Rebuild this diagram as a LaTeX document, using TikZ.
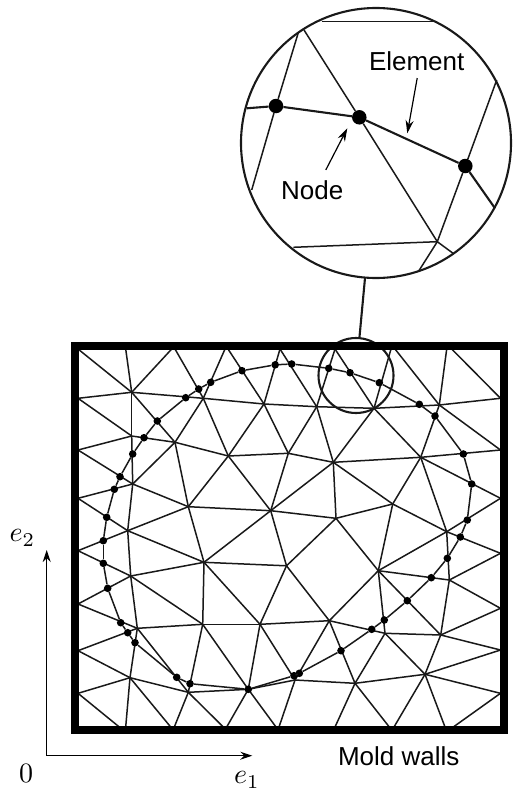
\documentclass[tikz,border=0pt]{standalone}
\usepackage{fontspec}
\setmainfont{Liberation Sans}
\usetikzlibrary{arrows.meta}
\tikzset{
  mesh/.style={line width=1.5pt,black!90},
  knot/.style={circle,fill=black,inner sep=0pt,minimum size=7.6pt},
  bigknot/.style={circle,fill=black,inner sep=0pt,minimum size=14.5pt},
  lens/.style={line width=2.1pt,black!90},
  axis/.style={line width=1.2pt,-{Stealth[length=12pt,width=8pt]}},
  pointer/.style={line width=1.2pt,-{Stealth[length=13pt,width=8pt]}},
  lab/.style={font=\fontsize{26}{30}\selectfont},
  mathlab/.style={scale=2.8}
}
\begin{document}
\begin{tikzpicture}[x=1pt,y=-1pt]
\useasboundingbox (0,0) rectangle (514,792);
% mesh points
\foreach \n/\p in {a1/{131.7,392.3},a2/{175,442.3},a3/{203.3,398.3},a4/{264,404},a5/{228.3,456},
  a6/{131.7,436},a7/{132.7,484},a8/{188.3,506.7},a9/{270.7,510.7},a10/{127.7,530.7},
  u1/{316.7,406.7},u2/{288.3,453.3},u3/{333.3,462.3},u4/{374,408.3},u5/{439.3,405},
  u6/{420.7,457.3},u7/{392.7,504},u8/{336,518.3},u10/{446.7,531.7},
  c1/{286.5,565.8},c2/{378.3,570.7},c3/{449.3,580},c4/{329.3,620.7},c5/{385,633.3},
  c6/{440.7,635},c7/{355,683.3},c8/{425,674.3},c9/{295,680},
  d2/{204,562.3},d4/{130.7,576},d5/{202.7,624.3},d6/{260,624.3},d7/{137.3,628.3},
  d8/{130,677.7},d9/{188.3,692.3},d10/{248.3,689.3}}
  \coordinate (\n) at (\p);
% points on the walls
\coordinate (tc) at (78,349);
\foreach \n/\x in {t1/125.7,t2/171.7,t3/175,t4/225,t5/228,t6/280,t7/335,t8/391,t9/395,t10/446.7,t11/451.7}
  \coordinate (\n) at (\x,349);
\foreach \n/\x in {b1/119.3,b2/125.7,b3/170.7,b4/174.3,b5/223.3,b6/226.7,b7/276,b8/279,b10/335,b11/389.3,b12/394,b13/445,b14/453.3}
  \coordinate (\n) at (\x,727);
\foreach \n/\y in {l1/398.3,l2/450,l3/498.3,l4/550.7,l5/604,l6/650.7,l7/693.3}
  \coordinate (\n) at (78,\y);
\foreach \n/\y in {r1/398.3,r2/450,r3/498.3,r4/553.3,r5/608.3,r6/650,r7/693.3}
  \coordinate (\n) at (500.5,\y);
% elements
\foreach \s/\e in {tc/a1,t1/a1,a1/a6,a6/a7,a7/a10,a10/d4,d4/d7,d7/d8,d8/b2,t2/a1,t3/a3,t4/a3,a3/a2,a3/a5,
  t5/a4,t6/a4,t6/u1,a1/a2,a1/l1,a1/a3,a3/a4,a4/u1,l1/a6,a6/l2,a6/a2,a2/a5,a2/a7,a2/a8,l2/a7,a7/a8,l3/a7,
  l3/a10,a5/a4,a5/a8,a5/a9,a5/u2,a4/u2,a8/a9,a8/a10,a10/l4,a10/d2,a8/d2,a9/d2,a9/c1,a9/u3,a9/u2,a9/u8,
  u8/c1,u1/u2,u1/u3,u1/u4,u1/t7,u2/u3,u3/u4,u3/u6,u3/u8,u3/u7,u7/u10,u7/u8,u7/u6,u7/c2,u8/c2,u4/t7,u4/t8,
  u4/u6,u4/u5,u5/t9,u5/t10,u5/u6,t11/r1,u5/r1,u5/r2,u6/r2,u6/r3,u6/u10,u10/r3,u10/r4,u10/c2,u10/c3,c3/r4,
  c3/c2,c3/c6,c3/r5,c6/r5,c6/r6,c6/c5,c6/c8,c5/c8,c5/c2,c5/c4,c5/c7,c2/c4,c2/c6,c4/c1,c4/d6,c4/c9,c4/c7,
  c8/r6,c8/r7,c8/c7,c8/b12,c8/b13,c7/c9,c7/b10,c7/b11,c9/d10,c9/d6,c9/b8,c1/d6,c1/d2,r7/b14,d2/d4,
  d2/d5,d2/d6,d4/l4,d4/l5,d4/d5,d5/d6,d5/d7,d5/d10,d5/d9,d6/d10,l5/d7,d7/l6,d7/d9,d9/b5,d8/l6,d8/l7,d8/d9,
  d8/b3,d9/b4,d9/d10,d10/b6,d10/b7,l7/b1}
  \draw[mesh] (\s) -- (\e);
% part outline
\foreach \n/\p in {1/{106.7,517.3},2/{114.3,489.3},3/{120,476.7},4/{132.7,454},5/{144,437.7},6/{157.3,421},
  7/{185.7,397.7},8/{198.7,389},9/{210.7,382.3},10/{242,370.7},11/{275.2,364.8},12/{291.7,364},
  13/{328.7,368.3},14/{350,372.7},15/{379.3,382.7},16/{419.3,404.3},17/{435,416},18/{463.3,454},
  19/{471.7,484},20/{467.3,520},21/{460.3,537},22/{447.3,558.3},23/{431.3,577.7},24/{407.3,600.7},
  25/{384.3,620},26/{371.7,629.3},27/{341,650.7},28/{299.3,673.3},29/{294,675.7},30/{248.3,689.3},
  31/{190,683.7},32/{176.7,677.3},33/{135,642.7},34/{127.7,632.7},35/{120.7,622.7},36/{107.7,588.3},
  37/{103.3,563.3},38/{103.3,540.7}}
  \node[knot] (n\n) at (\p) {};
\foreach \i [remember=\i as \j (initially 38)] in {1,...,38}
  \draw[mesh] (n\j) -- (n\i);
% small lens and walls
\node[draw,circle,lens,inner sep=0pt,minimum size=75pt] (small) at (356,375.5) {};
\node[draw,line width=8pt,inner sep=0pt,minimum width=428.5pt,minimum height=383.5pt] (walls) at (289.25,537.75) {};
% big lens
\node[draw,circle,lens,inner sep=0pt,minimum size=270pt] (big) at (376,143) {};
\draw[lens] (365,278) coordinate (stem) -- (small.north -| 359.5,0);
\coordinate (z1) at (321.7,21.7); \coordinate (z2) at (435,21.7);
\coordinate (z3) at (304,30); \coordinate (z4) at (437.3,241.7); \coordinate (z5) at (454,254);
\coordinate (z6) at (298.3,32.7); \coordinate (z7) at (251.7,190); \coordinate (z8) at (246.7,108.3);
\coordinate (z9) at (495,208.3); \coordinate (z10) at (496.7,80); \coordinate (z11) at (418.3,271.7);
\coordinate (z12) at (293.3,247.3);
\node[bigknot] (left) at (276,106) {};
\node[bigknot] (mid) at (359.3,117.3) {};
\node[bigknot] (right) at (465.3,166) {};
\draw[mesh] (z1) -- (z2);
\draw[mesh] (z3) -- (mid) -- (z4) -- (z5);
\draw[mesh] (z6) -- (left) -- (z7);
\draw[mesh] (z10) -- (right) -- (z4) -- (z11);
\draw[mesh] (z12) -- (z4);
\draw[lens] (z8) -- (left) -- (mid) -- (right) -- (z9);
% labels
\node[lab] (element) at (416.7,61) {Element};
\node[lab] (nodelab) at (312.3,190) {Node};
\coordinate (eltip) at (407.3,133.3);
\coordinate (notip) at (347.3,128.3);
\draw[pointer] (element.south) ++(0.5,4) -- (eltip);
\draw[pointer] (nodelab.north) ++(13.5,-7) -- (notip);
\node[lab] (mold) at (398.7,756) {Mold walls};
% frame axes
\coordinate (origin) at (46.7,755.7);
\coordinate (e1end) at (252.3,755.7);
\coordinate (e2end) at (46.7,550);
\draw[axis] (origin) -- (e1end);
\draw[axis] (origin) -- (e2end);
\node[mathlab] (zero) at (26,773) {$0$};
\node[mathlab] (e1) at (247,780) {$e_1$};
\node[mathlab] (e2) at (22.5,538) {$e_2$};
\end{tikzpicture}
\end{document}
